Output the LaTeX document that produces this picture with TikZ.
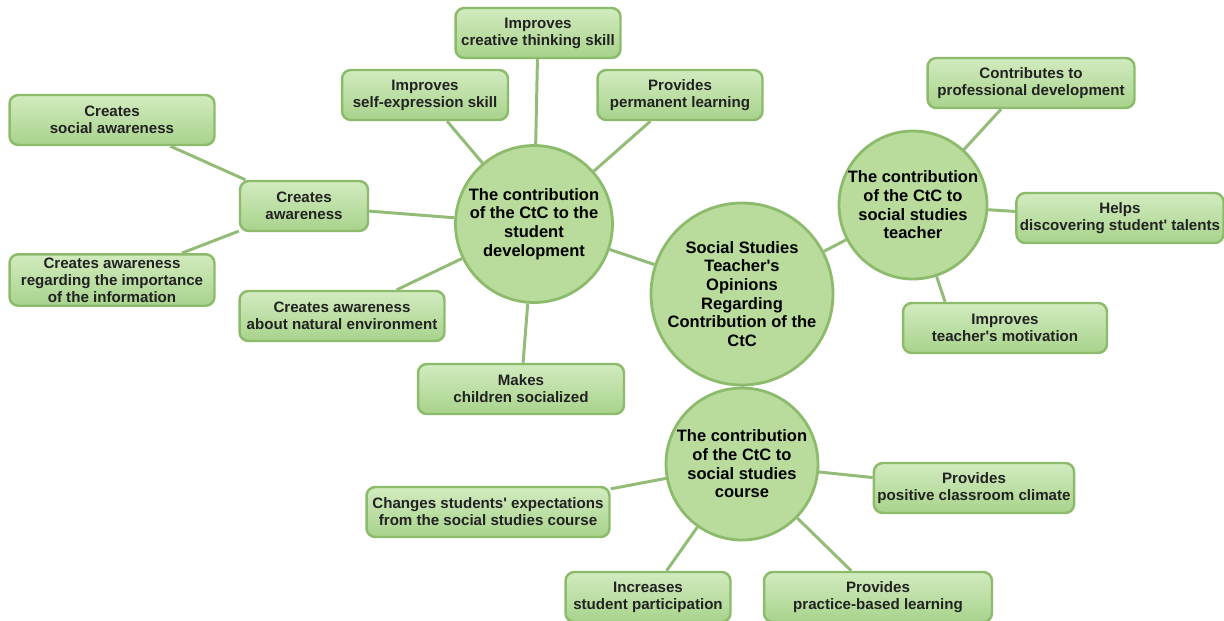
\documentclass[tikz,border=0pt]{standalone}
\usepackage{fontspec}
\setmainfont{Liberation Sans}
\usetikzlibrary{shapes, positioning}
\definecolor{leafline}{HTML}{8DBB6C}
\definecolor{leaftop}{HTML}{D2EBBF}
\definecolor{leafbot}{HTML}{A8D38C}
\definecolor{hubfill}{HTML}{B9DC9D}
\definecolor{linkcol}{HTML}{93BC78}
\definecolor{textcol}{HTML}{222222}

\begin{document}
\begin{tikzpicture}[x=0.02cm, y=-0.02cm,
    box/.style={draw=leafline, line width=1.4pt, rounded corners=5pt, rectangle,
        top color=leaftop, bottom color=leafbot, minimum height=1cm, align=center,
        inner sep=2pt, text=textcol, font=\bfseries\fontsize{8.6}{9.6}\selectfont},
    hub/.style={draw=leafline, line width=1.6pt, circle, fill=hubfill, align=center,
        inner sep=0pt, text=black, font=\bfseries\fontsize{9.4}{10.6}\selectfont},
    link/.style={draw=linkcol, line width=1.7pt}]
    \useasboundingbox (0,0) rectangle (1224,620);

    \node (main) at (742,294) [hub, minimum size=3.12cm] {Social Studies\\Teacher\textquotesingle s\\Opinions\\Regarding\\Contribution of the\\CtC};
    \node (student) at (534,224) [hub, minimum size=3.14cm] {The contribution\\of the CtC to the\\student\\development};
    \node (teacher) at (913,205) [hub, minimum size=2.96cm] {The contribution\\of the CtC to\\social studies\\teacher};
    \node (course) at (742,464) [hub, minimum size=3.04cm] {The contribution\\of the CtC to\\social studies\\course};

    \node (aware) at (304,206) [box, minimum width=2.56cm] {Creates\\awareness};
    \node (social) at (112,120) [box, minimum width=4.1cm] {Creates\\social awareness};
    \node (info) at (112,280) [box, minimum width=4.1cm] {Creates awareness\\regarding the importance\\of the information};
    \node (nature) at (342,316) [box, minimum width=4.1cm] {Creates awareness\\about natural environment};
    \node (socialized) at (521,389) [box, minimum width=4.12cm] {Makes\\children socialized};
    \node (selfexp) at (425,95) [box, minimum width=3.32cm] {Improves\\self-expression skill};
    \node (creative) at (538,33) [box, minimum width=3.3cm] {Improves\\creative thinking skill};
    \node (permanent) at (680,95) [box, minimum width=3.3cm] {Provides\\permanent learning};

    \node (prof) at (1031,83) [box, minimum width=4.14cm] {Contributes to\\professional development};
    \node (talents) at (1120,218) [box, minimum width=4.08cm] {Helps\\discovering student\textquotesingle{} talents};
    \node (motiv) at (1005,328) [box, minimum width=4.08cm] {Improves\\teacher\textquotesingle s motivation};

    \node (expect) at (488,512) [box, minimum width=4.86cm] {Changes students\textquotesingle{} expectations\\from the social studies course};
    \node (climate) at (974,488) [box, minimum width=3.84cm] {Provides\\positive classroom climate};
    \node (particip) at (648,597) [box, minimum width=3.3cm] {Increases\\student participation};
    \node (practice) at (878,597) [box, minimum width=4.56cm] {Provides\\practice-based learning};

    \draw[link] (main) -- (student);
    \draw[link] (main) -- (teacher);
    \draw[link] (main) -- (course);
    \draw[link] (student) -- (aware);
    \draw[link] (aware) -- (social);
    \draw[link] (aware) -- (info);
    \draw[link] (student) -- (nature);
    \draw[link] (student) -- (socialized);
    \draw[link] (student) -- (selfexp);
    \draw[link] (student) -- (creative);
    \draw[link] (student) -- (permanent);
    \draw[link] (teacher) -- ([xshift=-0.6cm]prof.south);
    \draw[link] (teacher) -- (talents);
    \draw[link] (teacher) -- ([xshift=-1.2cm]motiv.north);
    \draw[link] (course) -- (expect);
    \draw[link] (course) -- (climate);
    \draw[link] (course) -- (particip);
    \draw[link] (course) -- (practice);
\end{tikzpicture}
\end{document}
